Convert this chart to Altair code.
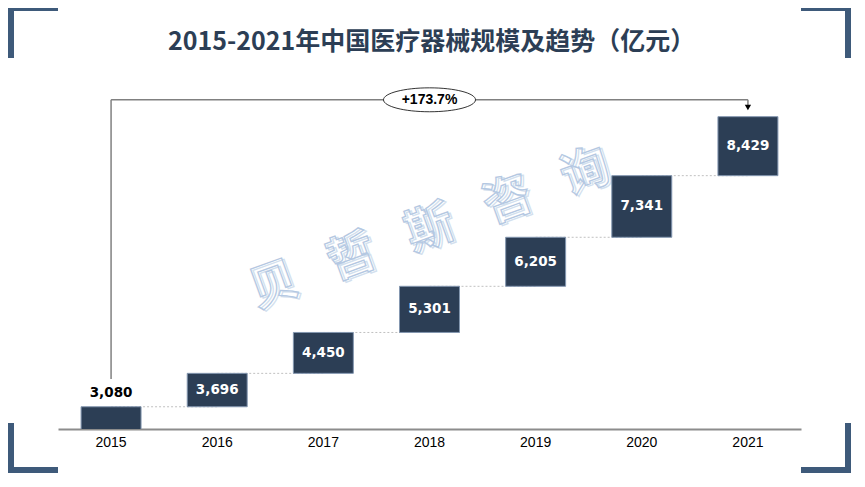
import altair as alt
import pandas as pd

# ---------------- data ----------------
years = ["2015", "2016", "2017", "2018", "2019", "2020", "2021"]
values = [3080, 3696, 4450, 5301, 6205, 7341, 8429]
title_text = "2015-2021年中国医疗器械规模及趋势（亿元）"
watermark_chars = ["贝", "哲", "斯", "咨", "询"]

starts = [0] + values[:-1]
bars = pd.DataFrame({"year": years, "start": starts, "value": values})
bars["mid"] = (bars["start"] + bars["value"]) / 2
bars["first"] = [i == 0 for i in range(len(years))]

conn = pd.DataFrame({"year": years[:-1], "next": years[1:], "value": values[:-1]})

growth = values[-1] / values[0] - 1
growth_label = f"+{growth * 100:.1f}%"

# scale / annotation levels (in data units)
Y_MIN, Y_MAX = 2670, 9400
ANN_Y = 8740
ANN_START = 3590
ARROW_END = 8600

NAVY = "#2c3e55"
CORNER = "#3e5a7a"
W, H = 743, 365
PAD = {"left": 50, "top": 56, "right": 50, "bottom": 44}

xs = alt.Scale(domain=years, paddingInner=0.435, paddingOuter=0.2175)
ys = alt.Scale(domain=[Y_MIN, Y_MAX], zero=False, nice=False)
xaxis = alt.Axis(labelAngle=0, labelFont="Liberation Sans", labelFontSize=14,
                 labelColor="#000000", domainColor="#8c8c8c", domainWidth=2,
                 ticks=False, labelPadding=6, grid=False)


def X(field="year"):
    return alt.X(f"{field}:N", scale=xs, axis=xaxis, title=None)


def Y(field):
    return alt.Y(f"{field}:Q", scale=ys, axis=None, title=None)


one = pd.DataFrame({"k": [0]})

# ---------------- decorations ----------------
L, R, T, B = -PAD["left"], W + PAD["right"], -PAD["top"], H + PAD["bottom"]
corner_rects = [
    (L, L + 6, T, T + 50), (L, L + 50, T, T + 3),
    (R - 6, R, T, T + 50), (R - 50, R, T, T + 3),
    (L, L + 6, B - 50, B), (L, L + 50, B - 6, B),
    (R - 6, R, B - 50, B), (R - 50, R, B - 6, B),
]
deco = [
    alt.Chart(one).mark_rect(color=CORNER).encode(
        x=alt.value(a), x2=alt.value(b), y=alt.value(c), y2=alt.value(d))
    for a, b, c, d in corner_rects
]

title = alt.Chart(one).mark_text(
    font="Noto Sans CJK SC", fontSize=25, fontWeight="bold", color=NAVY,
    align="center", baseline="middle"
).encode(x=alt.value(W / 2 + 2), y=alt.value(-22), text=alt.value(title_text))

wm_text = "\u2002 ".join(watermark_chars)
watermark_back = alt.Chart(one).mark_text(
    font="Noto Sans CJK SC", fontSize=48, fontWeight="bold", angle=340,
    fill="#ffffff", fillOpacity=0, stroke="#d3dfee", strokeWidth=1.3,
    align="center", baseline="middle", dx=2, dy=2
).encode(x=alt.value(372), y=alt.value(166), text=alt.value(wm_text))
watermark = alt.Chart(one).mark_text(
    font="Noto Sans CJK SC", fontSize=48, fontWeight="bold", angle=340,
    fill="#ffffff", fillOpacity=0, stroke="#b4c8e2", strokeWidth=1.3,
    align="center", baseline="middle"
).encode(x=alt.value(372), y=alt.value(166), text=alt.value(wm_text))

# ---------------- chart marks ----------------
connectors = alt.Chart(conn).mark_rule(
    color="#c0c0c0", strokeDash=[2, 2], strokeWidth=1
).encode(x=X(), x2=alt.X2("next"), y=Y("value"))

bar_layer = alt.Chart(bars).mark_bar(
    clip=True, color=NAVY, stroke="#8497b0", strokeWidth=1
).encode(x=X(), y=Y("start"), y2=alt.Y2("value"))

inner_labels = alt.Chart(bars).transform_filter("!datum.first").mark_text(
    font="DejaVu Sans", fontWeight="bold", fontSize=13.5, color="white",
    baseline="middle"
).encode(x=X(), y=Y("mid"), text=alt.Text("value:Q", format=","))

first_label = alt.Chart(bars).transform_filter("datum.first").mark_text(
    font="DejaVu Sans", fontWeight="bold", fontSize=13.5, color="black",
    baseline="middle", dy=-14
).encode(x=X(), y=Y("value"), text=alt.Text("value:Q", format=","))

# annotation
left_v = alt.Chart(pd.DataFrame({"year": [years[0]], "a": [ANN_START], "b": [ANN_Y]})
                   ).mark_rule(color="#808080", strokeWidth=1.5).encode(
    x=X(), y=Y("a"), y2=alt.Y2("b"))
horiz = alt.Chart(pd.DataFrame({"year": [years[0]], "next": [years[-1]], "a": [ANN_Y]})
                  ).mark_rule(color="#808080", strokeWidth=1.5).encode(
    x=X(), x2=alt.X2("next"), y=Y("a"))
right_v = alt.Chart(pd.DataFrame({"year": [years[-1]], "a": [ANN_Y], "b": [ARROW_END]})
                    ).mark_rule(color="#808080", strokeWidth=1.5).encode(
    x=X(), y=Y("a"), y2=alt.Y2("b"))
arrow = alt.Chart(pd.DataFrame({"year": [years[-1]], "a": [ARROW_END]})).mark_point(
    shape="triangle-down", size=40, filled=True, color="black", opacity=1
).encode(x=X(), y=Y("a"))

ellipse_path = ("M -1 0 C -1 -0.1436 -0.5523 -0.26 0 -0.26 C 0.5523 -0.26 1 -0.1436 1 0 "
                "C 1 0.1436 0.5523 0.26 0 0.26 C -0.5523 0.26 -1 0.1436 -1 0 Z")
mid_year = years[len(years) // 2]
ann_df = pd.DataFrame({"year": [mid_year], "a": [ANN_Y], "label": [growth_label]})
ellipse = alt.Chart(ann_df).mark_point(
    shape=ellipse_path, size=8464, filled=False, fill="white", fillOpacity=1,
    stroke="black", strokeWidth=0.8, opacity=1
).encode(x=X(), y=Y("a"))
ann_text = alt.Chart(ann_df).mark_text(
    font="Liberation Sans", fontWeight="bold", fontSize=14, color="black",
    baseline="middle"
).encode(x=X(), y=Y("a"), text="label:N")

chart = alt.layer(
    *deco, watermark_back, watermark, title, connectors, bar_layer, inner_labels,
    first_label, left_v, horiz, right_v, arrow, ellipse, ann_text
).properties(
    width=W, height=H,
    autosize=alt.AutoSizeParams(type="none"),
    padding=PAD,
    background="white",
).configure_view(stroke=None)

chart.save("out.html", embed_options={"renderer": "svg", "actions": False})
